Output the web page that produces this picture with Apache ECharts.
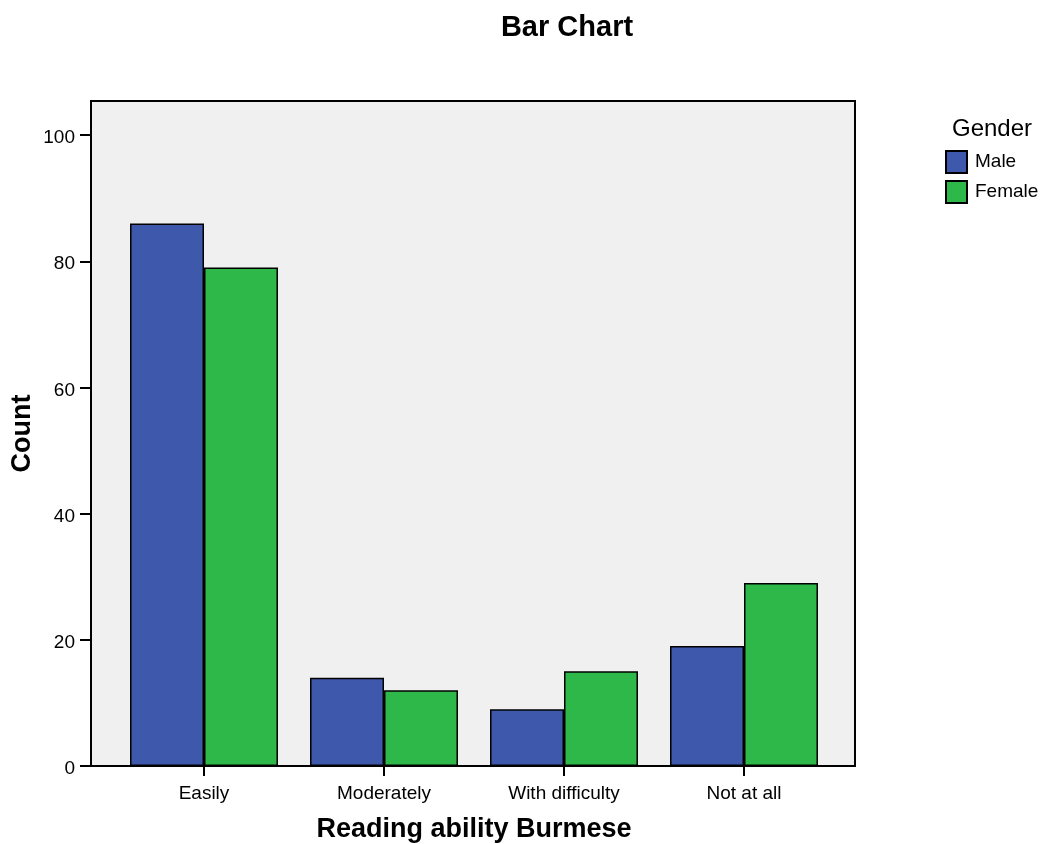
<!DOCTYPE html>
<html><head><meta charset="utf-8">
<script src="https://cdn.jsdelivr.net/npm/echarts@6/dist/echarts.min.js"></script>
<style>html,body{margin:0;padding:0;background:#fff}#c{width:1047px;height:844px}</style>
</head><body><div id="c"></div>
<script>
const categories = ['Easily', 'Moderately', 'With difficulty', 'Not at all'];
const maleCounts = [86, 14, 9, 19];
const femaleCounts = [79, 12, 15, 29];
const yTicks = [0, 20, 40, 60, 80, 100];
const seriesNames = ['Male', 'Female'];

const font = 'Liberation Sans, Arial, sans-serif';
const yMax = 105.4;
const chart = echarts.init(document.getElementById('c'), null, {renderer: 'canvas'});
chart.setOption({
  animation: false,
  backgroundColor: '#ffffff',
  title: {
    text: 'Bar Chart', left: 562, top: 8, textAlign: 'center',
    textStyle: {fontFamily: font, fontSize: 29, fontWeight: 'bold', color: '#000'}
  },
  graphic: [{
    type: 'text', left: 952, top: 117,
    style: {text: 'Gender', font: '24px ' + font, fill: '#000'}
  }],
  legend: {
    orient: 'vertical', left: 945, top: 150, padding: 0,
    icon: 'rect', itemWidth: 21, itemHeight: 22, itemGap: 6,
    textStyle: {fontFamily: font, fontSize: 19, color: '#000', padding: [0, 0, 0, 3]},
    data: seriesNames
  },
  grid: [
    {left: 91, right: 192, top: 101, bottom: 78, outerBoundsMode: 'none',
     show: true, backgroundColor: '#f0f0f0', borderColor: '#000', borderWidth: 2},
    {left: 114, right: 213, top: 101, bottom: 78, outerBoundsMode: 'none'}
  ],
  xAxis: [
    {type: 'value', gridIndex: 0, show: false, min: 0, max: 1},
    {
      type: 'category', gridIndex: 1, data: categories,
      name: 'Reading ability Burmese', nameLocation: 'middle', nameGap: 50,
      nameTextStyle: {fontFamily: font, fontSize: 27, fontWeight: 'bold', color: '#000'},
      axisLine: {show: false},
      axisTick: {show: true, alignWithLabel: true, length: 10, lineStyle: {color: '#000', width: 2}},
      axisLabel: {fontFamily: font, fontSize: 19, color: '#000', margin: 18, interval: 0}
    }
  ],
  yAxis: [
    {
      type: 'value', gridIndex: 0, min: 0, max: yMax, interval: 20,
      name: 'Count', nameLocation: 'middle', nameGap: 55, nameMoveOverlap: false,
      nameTextStyle: {fontFamily: font, fontSize: 27, fontWeight: 'bold', color: '#000'},
      splitLine: {show: false},
      axisLine: {show: true, lineStyle: {color: '#000', width: 2}},
      axisTick: {show: true, length: 11, customValues: yTicks, lineStyle: {color: '#000', width: 2}},
      axisLabel: {
        color: '#000', margin: 16, customValues: yTicks,
        formatter: '{v|{value}}',
        rich: {v: {fontFamily: font, fontSize: 19, color: '#000', padding: [6, 0, 0, 0]}}
      }
    },
    {type: 'value', gridIndex: 1, show: false, min: 0, max: yMax, splitLine: {show: false}}
  ],
  series: [
    {name: seriesNames[0], type: 'bar', xAxisIndex: 1, yAxisIndex: 1, data: maleCounts,
     barGap: '0%', barCategoryGap: '17.8%',
     itemStyle: {color: '#3e58ac', borderColor: '#000', borderWidth: 1.5}},
    {name: seriesNames[1], type: 'bar', xAxisIndex: 1, yAxisIndex: 1, data: femaleCounts,
     itemStyle: {color: '#2fb84a', borderColor: '#000', borderWidth: 1.5}}
  ]
});
</script></body></html>
